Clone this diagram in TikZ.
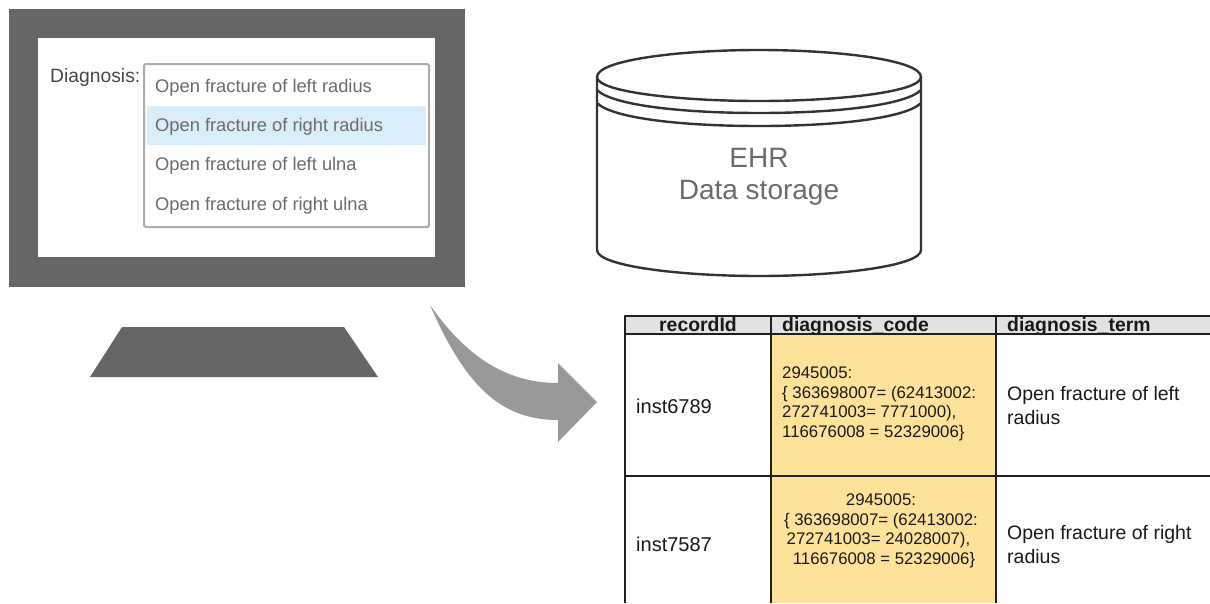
\documentclass[tikz,border=0pt]{standalone}
\usepackage{fontspec}
\setmainfont{Liberation Sans}
\definecolor{screengray}{HTML}{666666}
\definecolor{arrowgray}{HTML}{999999}
\definecolor{rowblue}{HTML}{DAEDFA}
\definecolor{codeyellow}{HTML}{FFE299}
\definecolor{headgray}{HTML}{E2E2E2}
\tikzset{
	optiontext/.style={anchor=west, inner sep=0pt, text=black!58, font=\fontsize{18.3}{20}\selectfont},
	celltext/.style={anchor=west, inner sep=0pt, text=black!90, font=\fontsize{19.5}{24}\selectfont, align=left},
	codetext/.style={inner sep=0pt, text=black!90, font=\fontsize{16.8}{19.5}\selectfont},
	headtext/.style={anchor=base, inner sep=0pt, text=black!90, font=\bfseries\fontsize{19.4}{20}\selectfont},
	gridline/.style={line width=2.8pt, draw=black!88},
	storageline/.style={draw=black!80, line width=2.4pt}
}
\begin{document}
\begin{tikzpicture}[x=1pt, y=-1pt, line join=round, line cap=butt]
	\useasboundingbox (0,0) rectangle (1210,603);
	\fill[white] (0,0) rectangle (1210,603);
	\fill[screengray] (9,9) rectangle (465,287);
	\fill[white] (38,38) rectangle (435,257);
	\draw[black!32, line width=2pt, rounded corners=2pt, fill=white] (144,64) rectangle (429,227);
	\fill[rowblue] (147,106) rectangle (426,145);
	\fill[screengray] (122,327)--(344,327)--(378,377)--(90,377)--cycle;
	\node[anchor=base west, inner sep=0pt, text=black!72, font=\fontsize{19.3}{20}\selectfont] (diagnosislabel) at (50,82) {Diagnosis:};
	\node[optiontext] (option1) at (155,88) {Open fracture of left radius};
	\node[optiontext] (option2) at (155,127) {Open fracture of right radius};
	\node[optiontext] (option3) at (155,166) {Open fracture of left ulna};
	\node[optiontext] (option4) at (155,206) {Open fracture of right ulna};
	\draw[storageline] (597,77) .. controls (597,60) and (680,50) .. (759,50) .. controls (838,50) and (921,60) .. (921,77) .. controls (921,92) and (838,101) .. (759,101) .. controls (680,101) and (597,92) .. (597,77);
	\draw[storageline] (597,77)--(597,250) .. controls (597,266) and (680,276) .. (759,276) .. controls (838,276) and (921,266) .. (921,250)--(921,77);
	\draw[storageline] (597,90) .. controls (612,105) and (680,113) .. (759,113) .. controls (838,113) and (906,105) .. (921,90);
	\draw[storageline] (597,103) .. controls (612,118) and (680,126) .. (759,126) .. controls (838,126) and (906,118) .. (921,103);
	\node[inner sep=0pt, align=center, text=black!58, font=\fontsize{28}{32.5}\selectfont] (storage) at (759,177) {EHR\\Data storage};
	\fill[arrowgray] (430,305) .. controls (465,355) and (505,383) .. (558,383)--(558,363)--(597,402)--(558,442)--(558,420) .. controls (500,420) and (465,385) .. (430,305)--cycle;
	\fill[headgray] (625,316) rectangle (1210,333);
	\fill[codeyellow] (771,333) rectangle (996,603);
	\node[headtext] (head1) at (698,331) {recordId};
	\node[headtext, anchor=base west] (head2) at (782,331) {diagnosis\_code};
	\node[headtext, anchor=base west] (head3) at (1007,331) {diagnosis\_term};
	\draw[gridline] (1210,316)--(625,316)--(625,603) (771,316)--(771,603) (996,316)--(996,603) (625,334)--(1210,334) (625,476)--(1210,476);
	\node[celltext, font=\fontsize{20}{24}\selectfont] (record1) at (636,406) {inst6789};
	\node[celltext, font=\fontsize{20}{24}\selectfont] (record2) at (636,544) {inst7587};
	\node[codetext, anchor=west, align=left] (code1) at (782,404) {2945005:\\\{ 363698007= (62413002:\\272741003= 7771000),\\116676008 = 52329006\}};
	\node[codetext, align=center] (code2) at (881,531) {2945005:\\\{ 363698007= (62413002:\\\hspace*{-5pt}272741003= 24028007),\\\hspace*{6pt}116676008 = 52329006\}};
	\node[celltext] (term1) at (1007,405.5) {Open fracture of left\\radius};
	\node[celltext] (term2) at (1007,544.5) {Open fracture of right\\radius};
\end{tikzpicture}
\end{document}
